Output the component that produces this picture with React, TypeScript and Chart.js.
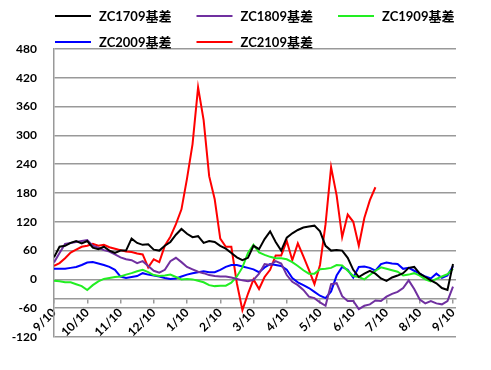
import React, { useEffect, useRef } from 'react';
import { Chart, registerables } from 'chart.js';

Chart.register(...registerables);

const monthLabels = ['9/10', '10/10', '11/10', '12/10', '1/10', '2/10', '3/10', '4/10', '5/10', '6/10', '7/10', '8/10', '9/10'];
const pointsPerMonth = 6;

const seriesNames = ['ZC1709基差', 'ZC1809基差', 'ZC1909基差', 'ZC2009基差', 'ZC2109基差'];
const seriesColors = ['#000000', '#7030A0', '#22EE22', '#0000FF', '#FF0000'];

const zc1709 = [46, 68, 70, 76, 80, 75, 80, 66, 63, 68, 60, 55, 60, 60, 85, 76, 72, 73, 62, 60,
  70, 78, 93, 105, 95, 88, 90, 76, 80, 78, 70, 64, 55, 46, 40, 45, 70, 63, 84, 100,
  78, 60, 87, 96, 103, 108, 110, 112, 100, 70, 60, 61, 60, 45, 20, 5, 12, 18, 12, 2,
  -3, 4, 8, 13, 24, 26, 12, 5, -2, -8, -18, -22, 32];

const zc1809 = [35, 55, 74, 76, 78, 80, 82, 70, 66, 61, 58, 52, 46, 42, 40, 34, 38, 28, 18, 14,
  20, 38, 45, 36, 26, 21, 16, 13, 9, 7, 6, 6, 4, 1, -2, -4, -1, 12, 32, 30,
  38, 33, 9, -5, -12, -22, -36, -39, -48, -55, -10, -8, -35, -45, -45, -62, -55, -52, -44, -45,
  -36, -30, -26, -18, -2, -20, -42, -50, -45, -50, -52, -45, -15];

const zc1909 = [-3, -4, -6, -6, -10, -14, -22, -12, -4, 1, 3, 5, 6, 10, 13, 17, 20, 15, 9, 7,
  8, 10, 5, 0, 1, 0, -3, -6, -12, -14, -13, -13, -7, 6, 25, 55, 72, 56, 51, 47,
  44, 44, 42, 36, 28, 19, 12, 12, 21, 22, 24, 30, 29, 18, 7, 5, 0, 9, 18, 25,
  22, 19, 16, 8, 10, 13, 8, 0, -4, 1, 6, 11, 22];

const zc2009 = [22, 22, 22, 24, 26, 30, 35, 36, 33, 30, 26, 20, 6, 3, 5, 7, 13, 10, 8, 6,
  3, 1, 2, 6, 10, 13, 15, 17, 15, 15, 20, 26, 30, 30, 27, 24, 21, 15, 25, 32,
  30, 28, 20, 3, -6, -12, -18, -26, -34, -39, -25, 8, 26, 20, 4, 26, 27, 24, 18, 32,
  35, 33, 32, 22, 24, 18, 12, 6, 2, 12, 3, 8, 28];

const zc2109 = [28, 34, 44, 56, 62, 68, 70, 74, 70, 72, 67, 64, 61, 58, 57, 54, 52, 25, 42, 36,
  70, 89, 115, 146, 210, 282, 400, 332, 215, 167, 85, 68, 68, -8, -64, -30, 0, -20, 5, 20,
  50, 50, 80, 40, 75, 48, 20, -10, 30, 115, 234, 175, 88, 135, 120, 70, 128, 165, 192];

const yTicks = { min: -120, max: 480, step: 60 };
const xAxisCross = -40;

const seriesValues = [zc1709, zc1809, zc1909, zc2009, zc2109];

const FONT = 'Lato, "Noto Sans CJK SC", sans-serif';

const legendPlugin = {
  id: 'twoRowLegend',
  afterDraw(chart: any) {
    const ctx = chart.ctx;
    const left = chart.chartArea.left;
    const colStep = 141.5;
    const rowY = [16, 42];
    const perRow = 3;
    chart.data.datasets.forEach((ds: any, i: number) => {
      const col = i % perRow;
      const row = Math.floor(i / perRow);
      const x = left + 1 + col * colStep;
      const y = rowY[row];
      ctx.save();
      ctx.strokeStyle = ds.borderColor;
      ctx.lineWidth = 2;
      ctx.beginPath();
      ctx.moveTo(x, y);
      ctx.lineTo(x + 36, y);
      ctx.stroke();
      ctx.fillStyle = '#000';
      ctx.font = 'bold 13px ' + FONT;
      ctx.textBaseline = 'middle';
      ctx.textAlign = 'left';
      ctx.fillText(ds.label, x + 44, y + 1);
      ctx.restore();
    });
  },
};

export default function App() {
  const ref = useRef<HTMLCanvasElement | null>(null);
  useEffect(() => {
    if (!ref.current) return;
    const datasets = seriesValues.map((vals, i) => ({
      label: seriesNames[i],
      data: vals.map((v, k) => ({ x: k / pointsPerMonth, y: v })),
      borderColor: seriesColors[i],
      backgroundColor: seriesColors[i],
      borderWidth: 2,
      pointRadius: 0,
      tension: 0,
      fill: false,
    }));
    const chart = new Chart(ref.current, {
      type: 'line',
      data: { datasets },
      plugins: [legendPlugin],
      options: {
        responsive: false,
        animation: false,
        layout: { padding: { top: 49, right: 35, bottom: 33, left: 0 } },
        plugins: { legend: { display: false }, tooltip: { enabled: false } },
        scales: {
          x: {
            type: 'linear',
            min: 0,
            max: 12.09,
            position: { y: xAxisCross },
            afterBuildTicks: (axis: any) => {
              axis.ticks = monthLabels.map((_, i) => ({ value: i }));
            },
            ticks: {
              autoSkip: false,
              minRotation: 45,
              maxRotation: 45,
              padding: 3,
              color: '#000',
              font: { family: FONT, size: 12, weight: 'bold' },
              callback: (v: any) => monthLabels[Math.round(Number(v))] ?? '',
            },
            grid: { drawOnChartArea: false, drawTicks: true, tickLength: 4, color: '#999', lineWidth: 1.5 },
            border: { color: '#999', width: 1.5 },
          },
          y: {
            type: 'linear',
            min: yTicks.min,
            max: yTicks.max,
            afterFit: (scale: any) => {
              scale.width = 54;
            },
            ticks: {
              stepSize: yTicks.step,
              padding: 17,
              color: '#000',
              font: { family: FONT, size: 12, weight: 'bold' },
            },
            grid: { color: '#999', lineWidth: 1.5, drawTicks: false },
            border: { color: '#999', width: 1.5 },
          },
        },
      },
    });
    return () => chart.destroy();
  }, []);
  return (
    <div style={{ position: 'absolute', left: 0, top: 0, width: 491, height: 370, background: '#fff' }}>
      <canvas ref={ref} width={491} height={370} style={{ width: 491, height: 370 }} />
    </div>
  );
}
